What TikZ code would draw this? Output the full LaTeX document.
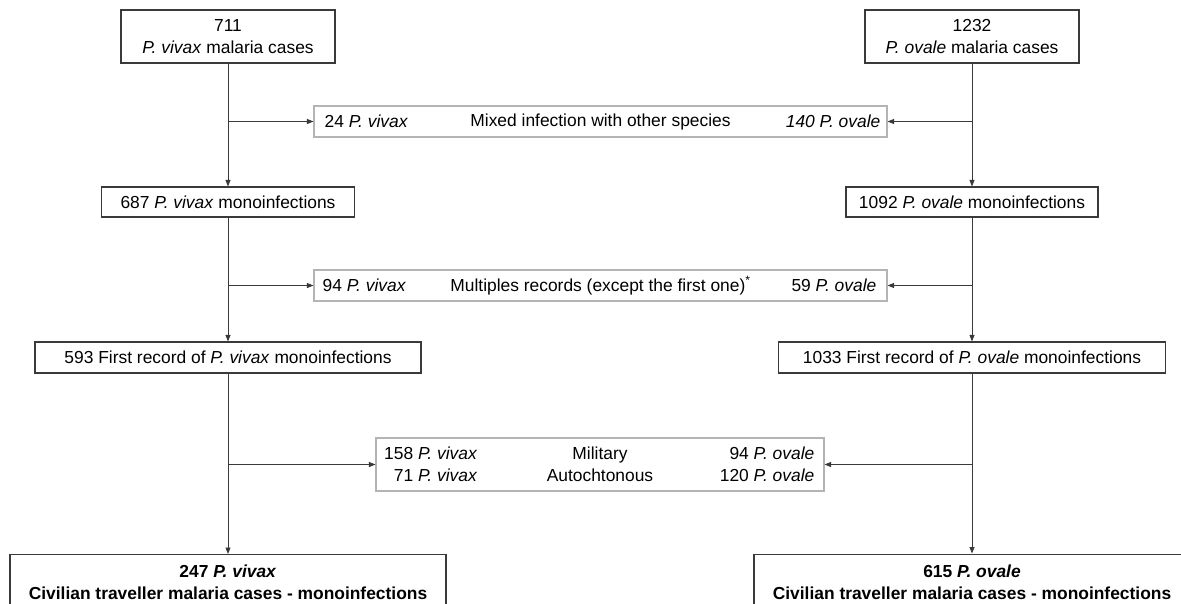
\documentclass[tikz,border=0pt]{standalone}
\usepackage{fontspec}
\setmainfont{Liberation Sans}
\usetikzlibrary{arrows.meta}
\definecolor{linec}{HTML}{3A3A3A}
\definecolor{exclc}{HTML}{B4B4B4}
\begin{document}
\begin{tikzpicture}[x=1pt,y=-1pt,
  every node/.style={font=\fontsize{17.4}{22}\selectfont, text=black},
  mainbox/.style={draw=linec, line width=1.1pt, inner sep=0pt, align=center},
  exclbox/.style={draw=exclc, line width=1.1pt, inner sep=0pt, align=center},
  lbl/.style={inner sep=0pt},
  arr/.style={draw=linec, line width=0.9pt, -{Triangle[length=6.5pt,width=5pt]}}
]
\useasboundingbox (0,0) rectangle (1181,603);

% left column
\node[mainbox, minimum width=214pt, minimum height=53pt] (v1) at (228,36.5) {711\\\textit{P. vivax} malaria cases};
\node[mainbox, minimum width=253pt, minimum height=30pt] (v2) at (228,202) {687 \textit{P. vivax} monoinfections};
\node[mainbox, minimum width=386pt, minimum height=31pt] (v3) at (228,357.5) {593 First record of \textit{P. vivax} monoinfections};
\node[mainbox, minimum width=436pt, minimum height=64pt, anchor=north] (v4) at (228,554) {};
\node[lbl] (v4a) at (228,571) {\textbf{247 \textit{P. vivax}}};
\node[lbl] (v4b) at (228,593) {\textbf{Civilian traveller malaria cases - monoinfections}};

% right column
\node[mainbox, minimum width=214pt, minimum height=53pt] (o1) at (972,36.5) {1232\\\textit{P. ovale} malaria cases};
\node[mainbox, minimum width=252pt, minimum height=30pt] (o2) at (972,202) {1092 \textit{P. ovale} monoinfections};
\node[mainbox, minimum width=387pt, minimum height=31pt] (o3) at (972,357.5) {1033 First record of \textit{P. ovale} monoinfections};
\node[mainbox, minimum width=436pt, minimum height=64pt, anchor=north] (o4) at (972,553.5) {};
\node[lbl] (o4a) at (972,571) {\textbf{615 \textit{P. ovale}}};
\node[lbl] (o4b) at (972,593) {\textbf{Civilian traveller malaria cases - monoinfections}};

% exclusion boxes
\node[exclbox, minimum width=573pt, minimum height=31pt] (mix) at (600.5,121.5) {Mixed infection with other species};
\node[lbl, anchor=west] (mixl) at ([xshift=11pt]mix.west) {24 \textit{P. vivax}};
\node[lbl, anchor=east] (mixr) at ([xshift=-7pt]mix.east) {\textit{140 P. ovale}};

\node[exclbox, minimum width=573pt, minimum height=31pt] (mult) at (600.5,285.5) {Multiples records (except the first one)\textsuperscript{*}};
\node[lbl, anchor=west] (multl) at ([xshift=9pt]mult.west) {94 \textit{P. vivax}};
\node[lbl, anchor=east] (multr) at ([xshift=-11pt]mult.east) {59 \textit{P. ovale}};

\node[exclbox, minimum width=448pt, minimum height=53pt] (mil) at (600,464.5) {Military\\Autochtonous};
\node[lbl, anchor=east, align=right] (mill) at ([xshift=102pt]mil.west) {158 \textit{P. vivax}\\71 \textit{P. vivax}};
\node[lbl, anchor=east, align=right] (milr) at ([xshift=-10pt]mil.east) {94 \textit{P. ovale}\\120 \textit{P. ovale}};

% vertical arrows
\draw[arr] (v1) -- (v2);
\draw[arr] (v2) -- (v3);
\draw[arr] (v3.south) -- (v4.north);
\draw[arr] (o1) -- (o2);
\draw[arr] (o2) -- (o3);
\draw[arr] (o3.south) -- (o4.north);

% branch arrows
\draw[arr] (v1.south |- mix.west) -- (mix.west);
\draw[arr] (o1.south |- mix.east) -- (mix.east);
\draw[arr] (v2.south |- mult.west) -- (mult.west);
\draw[arr] (o2.south |- mult.east) -- (mult.east);
\draw[arr] (v3.south |- mil.west) -- (mil.west);
\draw[arr] (o3.south |- mil.east) -- (mil.east);
\end{tikzpicture}
\end{document}
